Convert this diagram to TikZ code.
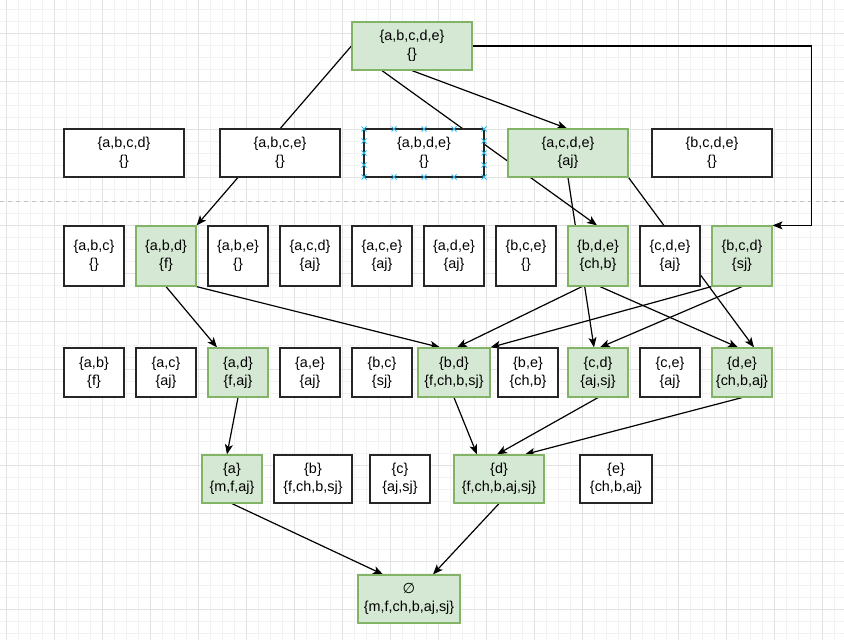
\documentclass[tikz,border=0pt]{standalone}
\usepackage{fontspec}
\setmainfont{Liberation Sans}
\newfontfamily\djv{DejaVu Sans}
\usetikzlibrary{arrows.meta,backgrounds}
\definecolor{gfill}{HTML}{D5E8D4}
\definecolor{gline}{HTML}{82B366}
\definecolor{selblue}{HTML}{29B6F2}
\definecolor{gridminor}{HTML}{F2F2F2}
\definecolor{gridmajor}{HTML}{E2E2E2}
\definecolor{pagebreak}{HTML}{C0C0C0}
\begin{document}
\begin{tikzpicture}[x=1pt,y=-1pt,
  base/.style={rectangle, draw, line width=1.2pt, align=center, inner sep=0pt,
    font=\fontsize{14.4}{18}\selectfont},
  wbox/.style={base, fill=white, draw=black!85},
  gbox/.style={base, fill=gfill, draw=gline},
  sz/.style 2 args={minimum width=#1pt, minimum height=#2pt},
  conn/.style={line width=1.2pt, draw=black},
  arr/.style={conn, -{Stealth[length=10pt,width=8pt,inset=2.5pt]}},
  selx/.style={draw=selblue, line width=0.8pt},
  gminor/.style={draw=gridminor, line width=0.6pt},
  gmajor/.style={draw=gridmajor, line width=0.8pt}
]
\useasboundingbox (0,0) rectangle (844,640);

% top
\node[gbox, sz={120}{48}] (top) at (412,46) {\{a,b,c,d,e\}\\\{\}};
% row 1
\node[wbox, sz={120}{48}] (abcd) at (124,153) {\{a,b,c,d\}\\\{\}};
\node[wbox, sz={120}{48}] (abce) at (280,153) {\{a,b,c,e\}\\\{\}};
\node[wbox, sz={120}{48}] (abde) at (424,153) {\{a,b,d,e\}\\\{\}};
\node[gbox, sz={120}{48}] (acde) at (568,153) {\{a,c,d,e\}\\\{aj\}};
\node[wbox, sz={120}{48}] (bcde) at (712,153) {\{b,c,d,e\}\\\{\}};
% row 2
\node[wbox, sz={60}{60}] (abc) at (94,256) {\{a,b,c\}\\\{\}};
\node[gbox, sz={60}{60}] (abd) at (166,256) {\{a,b,d\}\\\{f\}};
\node[wbox, sz={60}{60}] (abe) at (238,256) {\{a,b,e\}\\\{\}};
\node[wbox, sz={60}{60}] (acd) at (310,256) {\{a,c,d\}\\\{aj\}};
\node[wbox, sz={60}{60}] (ace) at (382,256) {\{a,c,e\}\\\{aj\}};
\node[wbox, sz={60}{60}] (ade) at (454,256) {\{a,d,e\}\\\{aj\}};
\node[wbox, sz={60}{60}] (bce) at (526,256) {\{b,c,e\}\\\{\}};
\node[gbox, sz={60}{60}] (bde) at (598,256) {\{b,d,e\}\\\{ch,b\}};
\node[wbox, sz={60}{60}] (cde) at (670,256) {\{c,d,e\}\\\{aj\}};
\node[gbox, sz={60}{60}] (bcd) at (742,256) {\{b,c,d\}\\\{sj\}};
% row 3
\node[wbox, sz={60}{49}] (ab) at (94,372.5) {\{a,b\}\\\{f\}};
\node[wbox, sz={60}{49}] (ac) at (166,372.5) {\{a,c\}\\\{aj\}};
\node[gbox, sz={60}{49}] (ad) at (238,372.5) {\{a,d\}\\\{f,aj\}};
\node[wbox, sz={60}{49}] (ae) at (310,372.5) {\{a,e\}\\\{aj\}};
\node[wbox, sz={60}{49}] (bc) at (382,372.5) {\{b,c\}\\\{sj\}};
\node[gbox, sz={72}{49}] (bd) at (454,372.5) {\{b,d\}\\\{f,ch,b,sj\}};
\node[wbox, sz={60}{49}] (be) at (528,372.5) {\{b,e\}\\\{ch,b\}};
\node[gbox, sz={60}{49}] (cd) at (598,372.5) {\{c,d\}\\\{aj,sj\}};
\node[wbox, sz={60}{49}] (ce) at (670,372.5) {\{c,e\}\\\{aj\}};
\node[gbox, sz={60}{49}] (de) at (742,372.5) {\{d,e\}\\\{ch,b,aj\}};
% row 4
\node[gbox, sz={60}{48}] (a) at (232,479) {\{a\}\\\{m,f,aj\}};
\node[wbox, sz={78}{48}] (b) at (313,479) {\{b\}\\\{f,ch,b,sj\}};
\node[wbox, sz={60}{48}] (c) at (400,479) {\{c\}\\\{aj,sj\}};
\node[gbox, sz={90}{48}] (d) at (499,479) {\{d\}\\\{f,ch,b,aj,sj\}};
\node[wbox, sz={72}{48}] (e) at (616,479) {\{e\}\\\{ch,b,aj\}};
% bottom
\node[gbox, sz={102}{48}] (empty) at (409,599) {{\djv ∅}\\\{m,f,ch,b,aj,sj\}};

% selection markers on {a,b,d,e}
\foreach \px/\py in {364/129,394/129,424/129,454/129,484/129,
                     364/177,394/177,424/177,454/177,484/177,
                     364/141,364/153,364/165,484/141,484/153,484/165}
  \draw[selx] (\px-2.5,\py-2.5) -- (\px+2.5,\py+2.5) (\px-2.5,\py+2.5) -- (\px+2.5,\py-2.5);

\begin{scope}[on background layer]
  \fill[white] (0,0) rectangle (844,640);
  \foreach \i in {0,...,70} \draw[gminor] ({6.7+12*\i},0) -- ++(0,640);
  \foreach \i in {0,...,53} \draw[gminor] (0,{9.7+12*\i}) -- ++(844,0);
  \foreach \i in {0,...,17} \draw[gmajor] ({6.7+48*\i},0) -- ++(0,640);
  \foreach \i in {0,...,13} \draw[gmajor] (0,{33.7+48*\i}) -- ++(844,0);
  \draw[pagebreak, line width=0.8pt, dash pattern=on 4pt off 4pt] (0,201) -- (844,201);

  % connectors
  \draw[arr] (top.west) -- (abd.north east);
  \draw[arr] ([xshift=-30pt]top.south) -- ([xshift=-1pt]bde.north);
  \draw[arr] (top.south) -- ([xshift=-1pt]acde.north);
  \draw[arr] (top.east) -- ++(339,0) |- (bcd.north east);
  \draw[arr] (acde.south) -- ([xshift=-4pt]cd.north);
  \draw[arr] (acde.south east) -- ([xshift=12pt]de.north);
  \draw[arr] (abd.south) -- ([xshift=-21pt]ad.north);
  \draw[arr] (abd.south east) -- ([xshift=-14pt]bd.north);
  \draw[arr] ([xshift=-16pt]bde.south) -- ([xshift=3pt]bd.north);
  \draw[arr] ([xshift=2pt]bde.south) -- ([xshift=-4pt]de.north);
  \draw[arr] (bcd.south west) -- (bd.north east);
  \draw[arr] (bcd.south) -- ([xshift=2pt]cd.north);
  \draw[arr] (ad.south) -- ([xshift=-5pt]a.north);
  \draw[arr] (bd.south) -- ([xshift=-22pt]d.north);
  \draw[arr] (cd.south) -- ([xshift=-2pt]d.north);
  \draw[arr] (de.south) -- ([xshift=26pt]d.north);
  \draw[arr] (a.south) -- ([xshift=-26pt]empty.north);
  \draw[arr] (d.south) -- ([xshift=24pt]empty.north);
\end{scope}
\end{tikzpicture}
\end{document}
